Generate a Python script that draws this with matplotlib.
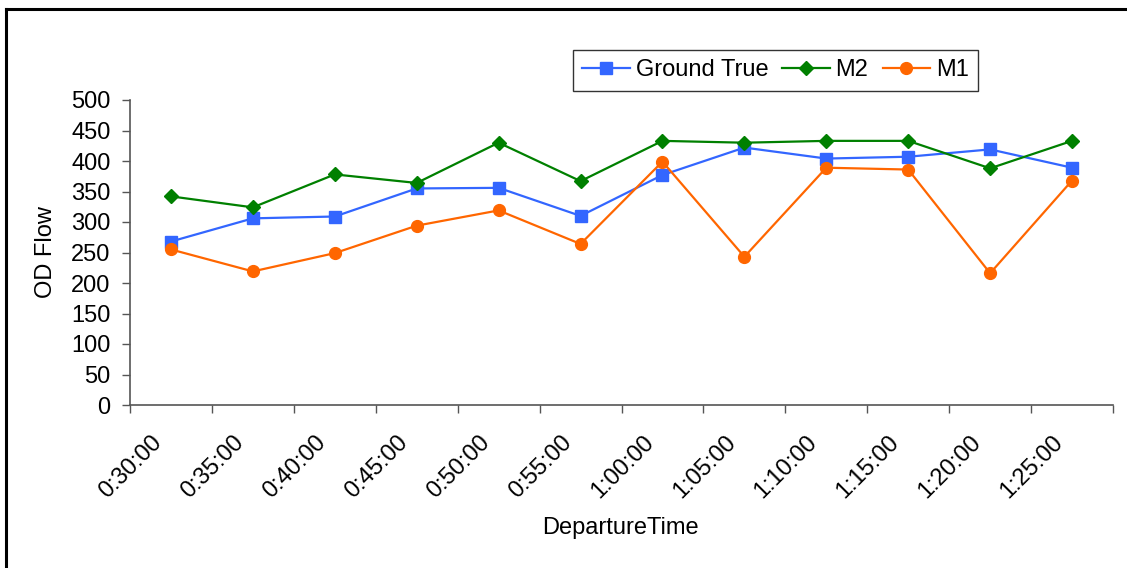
import matplotlib
matplotlib.use("Agg")
import matplotlib.pyplot as plt
from matplotlib.lines import Line2D
from matplotlib.transforms import ScaledTranslation

plt.rcParams['font.family'] = ['Liberation Sans', 'DejaVu Sans']

departure = ["0:30:00", "0:35:00", "0:40:00", "0:45:00", "0:50:00", "0:55:00",
             "1:00:00", "1:05:00", "1:10:00", "1:15:00", "1:20:00", "1:25:00"]
ground_true = [268, 306, 309, 355, 356, 310, 377, 422, 404, 407, 419, 389]
m2 = [342, 324, 378, 364, 430, 367, 433, 430, 433, 433, 388, 433]
m1 = [255, 219, 249, 294, 319, 264, 399, 243, 389, 386, 216, 368]

FS = 17

fig = plt.figure(figsize=(11.27, 5.68), dpi=100)
ax = fig.add_axes([130 / 1127, 1 - 405 / 568, 983 / 1127, 305 / 568])

x = [i + 0.5 for i in range(len(departure))]
ax.plot(x, ground_true, color='#3366FF', marker='s', markersize=8, linewidth=1.6,
        label='Ground True')
ax.plot(x, m2, color='#008000', marker='D', markersize=7, linewidth=1.6, label='M2')
ax.plot(x, m1, color='#FF6600', marker='o', markersize=8.5, linewidth=1.6, label='M1')

ax.set_xlim(0, len(departure))
ax.set_ylim(0, 500)
ax.set_yticks(range(0, 501, 50))
ax.set_xticks(range(0, len(departure) + 1))
ax.set_xticklabels([])
ax.set_xticks(x, minor=True)
ax.set_xticklabels(departure, minor=True, rotation=45, ha='right',
                   rotation_mode='anchor', fontsize=FS)
ax.tick_params(axis='x', which='minor', length=0, pad=14)
ax.tick_params(axis='x', which='major', length=6, width=1, color='#555555', direction='out')
ax.tick_params(axis='y', length=6, width=1, color='#555555', direction='out',
               labelsize=FS, pad=8)

# nudge the rotated time labels down and to the left
shift = ScaledTranslation(-0.20, -0.07, fig.dpi_scale_trans)
for lbl in ax.get_xticklabels(minor=True):
    lbl.set_transform(lbl.get_transform() + shift)

for side in ('top', 'right'):
    ax.spines[side].set_visible(False)
for side in ('left', 'bottom'):
    ax.spines[side].set_color('#555555')
    ax.spines[side].set_linewidth(1.2)

ax.set_ylabel('OD Flow', fontsize=FS, labelpad=10)
fig.text(620 / 1127, 1 - 528 / 568, 'DepartureTime', fontsize=FS,
         ha='center', va='center')

leg = ax.legend(loc='upper left', bbox_to_anchor=((573 - 130) / 983, (405 - 50) / 305),
                ncol=3, fontsize=FS, frameon=True, fancybox=False,
                handlelength=2.0, handletextpad=0.25, columnspacing=0.6,
                borderpad=0.4, borderaxespad=0)
leg.get_frame().set_edgecolor('black')
leg.get_frame().set_linewidth(1.0)

# frame lines along the top and left edge of the figure
fig.add_artist(Line2D([6 / 1127, 6 / 1127], [0, 1 - 9 / 568], color='black',
                      linewidth=2.2, transform=fig.transFigure))
fig.add_artist(Line2D([6 / 1127, 1], [1 - 9 / 568, 1 - 9 / 568], color='black',
                      linewidth=2.2, transform=fig.transFigure))

fig.savefig('out.png', dpi=100)
